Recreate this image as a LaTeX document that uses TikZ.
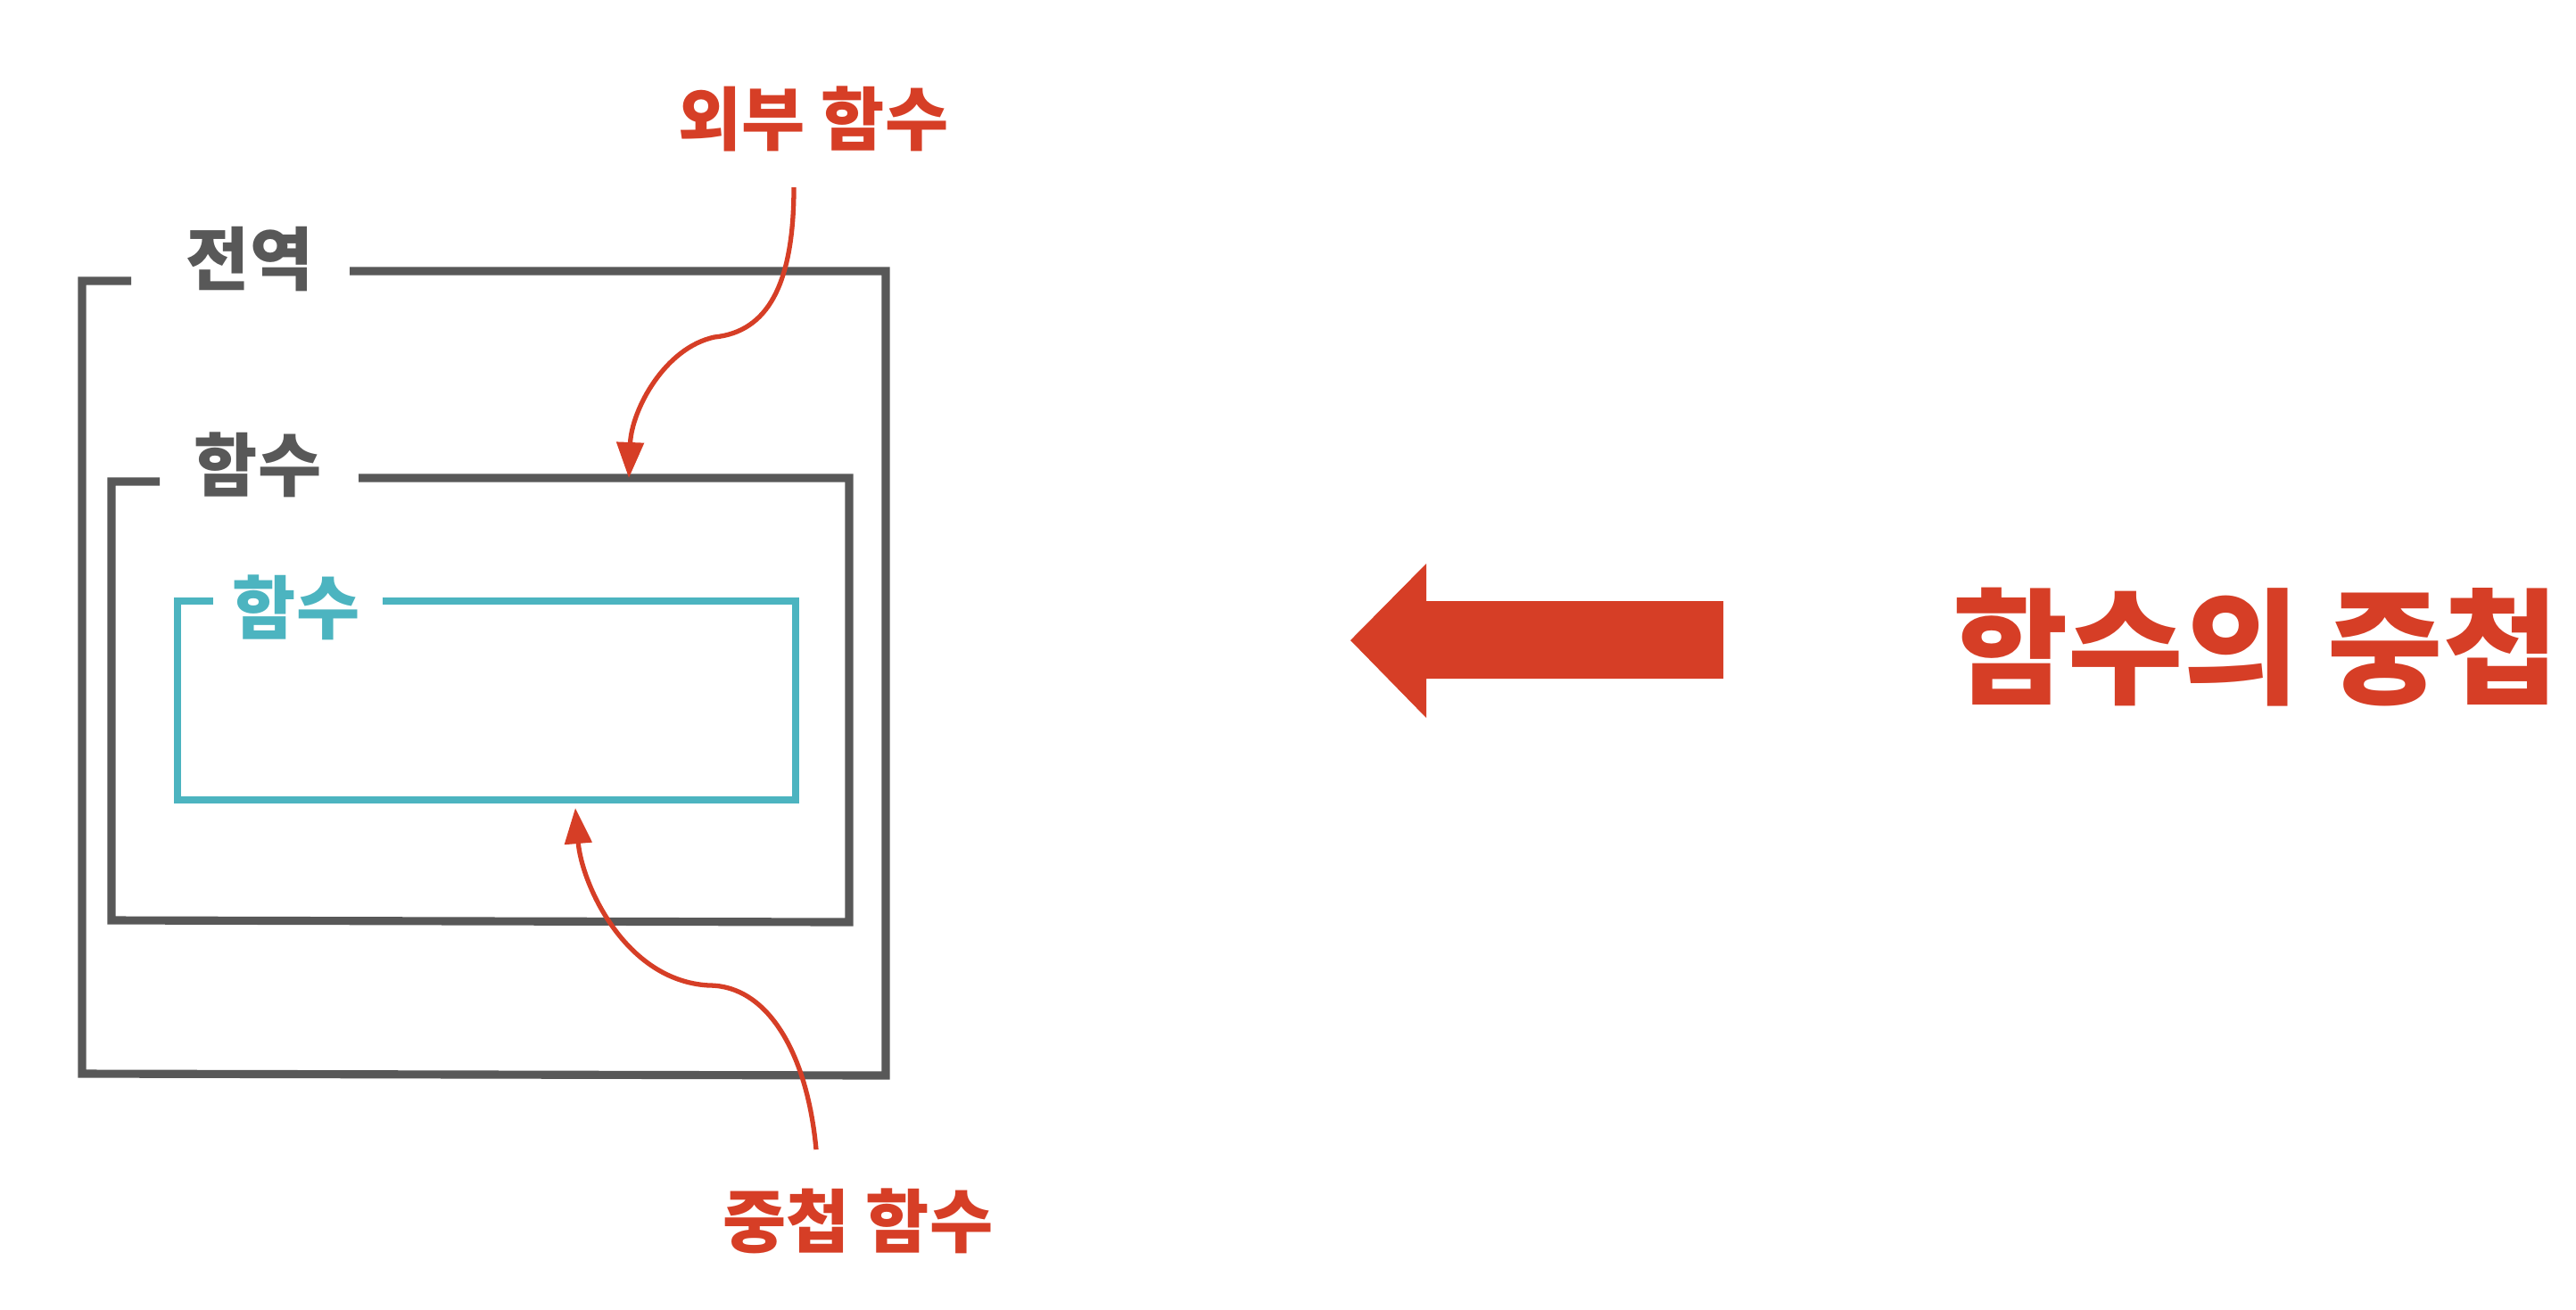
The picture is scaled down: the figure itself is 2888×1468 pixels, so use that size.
\documentclass[tikz,border=0pt]{standalone}
\usepackage{fontspec}
\setmainfont{Noto Sans CJK KR}
\usepackage{xcolor}
\usetikzlibrary{arrows.meta,positioning}

\definecolor{BoxGray}{RGB}{88,88,88}
\definecolor{BoxTeal}{RGB}{76,180,192}
\definecolor{NoteRed}{RGB}{214,62,38}

\begin{document}
\begin{tikzpicture}[x=0.01cm,y=-0.01cm,
    graybox/.style={line width=2.6pt,draw=BoxGray},
    tealbox/.style={line width=2.4pt,draw=BoxTeal},
    lblgray/.style={inner sep=0pt,text=BoxGray,font=\bfseries\fontsize{22}{26}\selectfont},
    lblteal/.style={inner sep=0pt,text=BoxTeal,font=\bfseries\fontsize{22}{26}\selectfont},
    lblred/.style={inner sep=0pt,text=NoteRed,font=\bfseries\fontsize{22}{26}\selectfont},
    pointer/.style={NoteRed,line width=1.5pt,-{Triangle[length=0.4cm,width=0.3cm]}}]
  \useasboundingbox[fill=white] (0,0) rectangle (2888,1468);

  % the three boxes, each with a gap for its label
  \node[lblgray] (glob) at (280,291) {전역};
  \draw[graybox] (147,315) -- (92,315) -- (92,1204) -- (993,1206) -- (993,304) -- (392,304);
  \node[lblgray] (outfn) at (289,521) {함수};
  \draw[graybox] (179,540) -- (125,540) -- (125,1032) -- (952,1034) -- (952,536) -- (402,536);
  \node[lblteal] (infn) at (332,681) {함수};
  \draw[tealbox] (239,674) -- (199,674) -- (199,897) -- (892,897) -- (892,674) -- (429,674);

  % notes
  \node[lblred] (outlbl) at (912,133) {외부 함수};
  \node[lblred] (nestlbl) at (962,1369) {중첩 함수};
  \coordinate (outtop) at (890,210);
  \coordinate (outtip) at (705,536);
  \coordinate (nestbot) at (915,1289);
  \coordinate (nesttip) at (645,906);
  \draw[pointer] (outtop) .. controls (890,320) and (860,372) .. (801,378)
                          .. controls (745,390) and (708,460) .. (outtip);
  \draw[pointer] (nestbot) .. controls (905,1180) and (860,1105) .. (795,1105)
                           .. controls (700,1100) and (652,990) .. (nesttip);

  % big arrow and title
  \fill[NoteRed] (1514,718) -- (1599,632) -- (1599,674) -- (1932,674)
                 -- (1932,761) -- (1599,761) -- (1599,805) -- cycle;
  \node[inner sep=0pt,text=NoteRed,font=\bfseries\fontsize{40}{46}\selectfont] (title) at (2529,726) {함수의 중첩};
\end{tikzpicture}
\end{document}
